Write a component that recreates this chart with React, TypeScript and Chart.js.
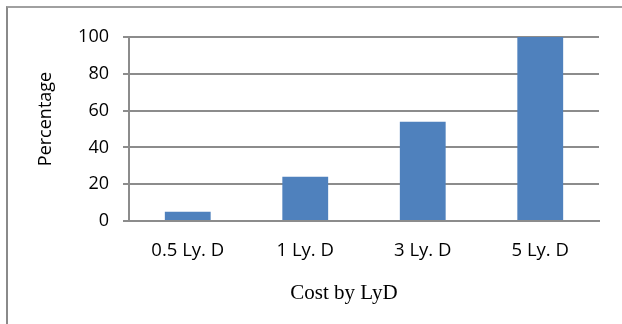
import React, { useEffect, useRef } from "react";
import { Chart, registerables } from "chart.js";

Chart.register(...registerables);

const categories: string[] = ["0.5 Ly. D", "1 Ly. D", "3 Ly. D", "5 Ly. D"];
const percentages: number[] = [5, 24, 54, 100];
const yTicks: number[] = [0, 20, 40, 60, 80, 100];
const xTitle = "Cost by LyD";
const yTitle = "Percentage";

const GRID = "#8c8c8c";
const SANS = "'Open Sans', 'Noto Sans', sans-serif";

// Axis titles are painted by hand so they sit where the frame layout wants them.
const axisTitles = {
  id: "axisTitles",
  afterDraw(chart: Chart) {
    const ctx = chart.ctx;
    ctx.save();
    ctx.fillStyle = "#000";
    ctx.textAlign = "center";
    ctx.textBaseline = "middle";
    ctx.font = "21px 'Liberation Serif', 'Times New Roman', serif";
    ctx.fillText(xTitle, 344, 293);
    ctx.translate(46, 119);
    ctx.rotate(-Math.PI / 2);
    ctx.font = `18px ${SANS}`;
    ctx.fillText(yTitle, 0, 0);
    ctx.restore();
  },
};

export default function App() {
  const canvasRef = useRef<HTMLCanvasElement | null>(null);

  useEffect(() => {
    const canvas = canvasRef.current;
    if (!canvas) return;
    const chart = new Chart(canvas, {
      type: "bar",
      data: {
        labels: categories,
        datasets: [
          {
            data: percentages,
            backgroundColor: "#4F81BD",
            borderWidth: 0,
            barPercentage: 0.39,
            categoryPercentage: 1,
          },
        ],
      },
      options: {
        animation: false,
        responsive: false,
        devicePixelRatio: 1,
        layout: { padding: { left: 0, right: 23, top: 37, bottom: 0 } },
        plugins: {
          legend: { display: false },
          tooltip: { enabled: false },
        },
        scales: {
          x: {
            grid: { display: false, drawTicks: false, tickLength: 0 },
            border: { display: true, color: GRID, width: 2 },
            ticks: {
              color: "#000",
              font: { family: SANS, size: 18.5 },
              padding: 19,
            },
            afterFit: (s: any) => {
              s.height = 103;
            },
          },
          y: {
            min: 0,
            max: 100,
            afterBuildTicks: (s: any) => {
              s.ticks = yTicks.map((v) => ({ value: v }));
            },
            grid: {
              color: GRID,
              lineWidth: 2,
              drawTicks: true,
              tickLength: 6,
            },
            border: { display: true, color: GRID, width: 2 },
            ticks: {
              color: "#000",
              font: { family: SANS, size: 18 },
              padding: 14,
            },
            afterFit: (s: any) => {
              s.width = 129;
            },
          },
        },
      },
      plugins: [axisTitles],
    });
    return () => chart.destroy();
  }, []);

  return (
    <div
      style={{
        position: "fixed",
        left: 0,
        top: 0,
        width: 622,
        height: 324,
        background: "#fff",
        overflow: "hidden",
      }}
    >
      <div
        style={{
          position: "absolute",
          left: 6,
          top: 6,
          width: 700,
          height: 400,
          borderLeft: "2px solid #8a8a8a",
          borderTop: "2px solid #a0a0a0",
        }}
      />
      <canvas
        ref={canvasRef}
        width={622}
        height={324}
        style={{ position: "absolute", left: 0, top: 0 }}
      />
    </div>
  );
}
